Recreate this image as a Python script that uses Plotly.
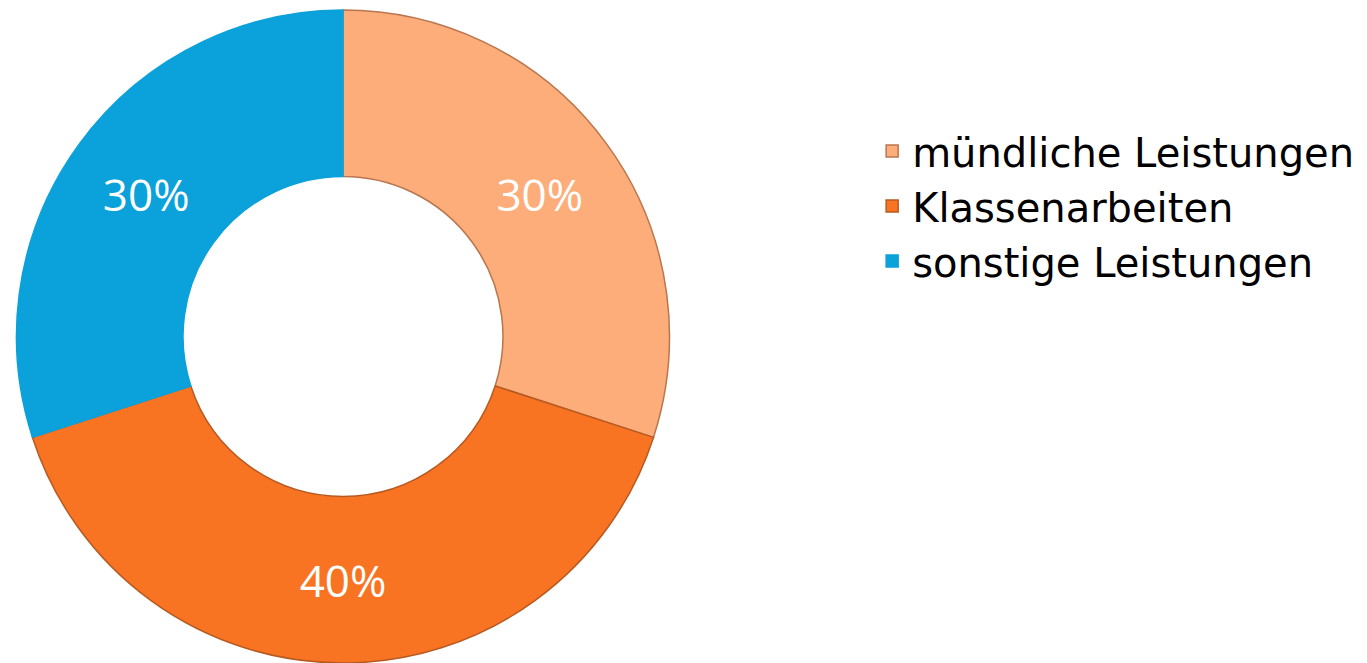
import plotly.graph_objects as go

labels = ["mündliche Leistungen", "Klassenarbeiten", "sonstige Leistungen"]
values = [30, 40, 30]
colors = ["#FDAD7A", "#F97422", "#0BA1DA"]
line_colors = ["#B9754E", "#B75A22", "#0BA1DA"]

fig = go.Figure(go.Pie(
    labels=labels,
    values=values,
    hole=0.49,
    sort=False,
    direction="clockwise",
    rotation=0,
    marker=dict(colors=colors, line=dict(color=line_colors, width=1.5)),
    textinfo="percent",
    textposition="inside",
    insidetextorientation="horizontal",
    textfont=dict(color="white", size=44, family="Open Sans"),
    domain=dict(x=[0, 0.5018], y=[0, 1]),
))

fig.update_layout(
    width=1367, height=663,
    margin=dict(l=0, r=0, t=10, b=0),
    paper_bgcolor="white",
    plot_bgcolor="white",
    showlegend=True,
    legend=dict(
        x=0.638, y=0.70, xanchor="left", yanchor="middle",
        font=dict(size=40, color="black", family="DejaVu Sans"),
        itemwidth=30,
        tracegroupgap=0,
    ),
)

fig.write_html("out.html")
